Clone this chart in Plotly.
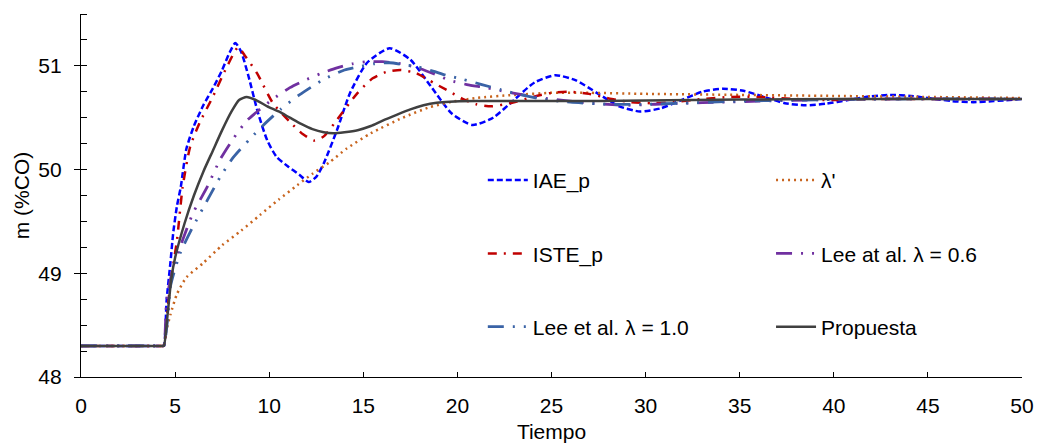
import plotly.graph_objects as go

# Controller output responses m (%CO) versus time
t_iae = [0, 4.3, 4.4, 4.55, 4.75, 4.9, 5.1, 5.3, 5.6, 6.0, 6.5, 7.0, 7.5, 7.9, 8.2, 8.5, 8.9,
         9.4, 9.9, 10.4, 11.0, 11.6, 12.1, 12.5, 12.9, 13.6, 14.3, 15.2, 16.4, 17.5, 18.6,
         19.7, 20.8, 21.9, 23.0, 24.1, 25.2, 26.3, 27.45, 28.6, 29.7, 30.8, 31.9, 33.0,
         34.1, 35.2, 36.3, 37.4, 38.5, 39.6, 40.75, 41.9, 43.0, 44.1, 45.2, 46.3, 47.4,
         48.5, 50.0]
m_iae = [48.3, 48.3, 48.3, 48.74, 49.1, 49.39, 49.65, 49.83, 50.2, 50.42, 50.62, 50.78, 50.96,
         51.13, 51.22, 51.14, 50.9, 50.55, 50.28, 50.12, 50.03, 49.95, 49.88, 49.93, 50.06,
         50.38, 50.74, 51.03, 51.17, 51.06, 50.8, 50.54, 50.43, 50.5, 50.67, 50.84, 50.91,
         50.86, 50.735, 50.61, 50.56, 50.59, 50.67, 50.75, 50.78, 50.76, 50.7, 50.64,
         50.62, 50.635, 50.67, 50.705, 50.72, 50.71, 50.685, 50.66, 50.65, 50.66, 50.68]

t_lam = [0, 4.3, 4.4, 4.5, 4.75, 5.1, 5.6, 6.5, 7.5, 8.5, 9.5, 10.5, 11.5, 12.3, 13.2, 14.1,
         15.4, 17.1, 18.5, 19.6, 21.0, 23.0, 25.0, 27.0, 30.0, 35.0, 40.0, 45.0, 50.0]
m_lam = [48.3, 48.3, 48.3, 48.42, 48.6, 48.8, 48.96, 49.1, 49.27, 49.41, 49.56, 49.71, 49.85,
         49.96, 50.07, 50.2, 50.35, 50.5, 50.6, 50.65, 50.69, 50.72, 50.74, 50.74, 50.73,
         50.72, 50.71, 50.7, 50.69]

t_iste = [0, 4.3, 4.4, 4.6, 4.75, 5.1, 5.4, 5.8, 6.3, 7.0, 7.75, 8.35, 8.7, 9.35, 10.2, 11.1,
          11.8, 12.4, 12.9, 13.6, 14.7, 15.5, 16.2, 17.0, 17.8, 18.5, 19.4, 20.3, 21.0,
          21.8, 22.8, 24.0, 25.0, 26.0, 27.0, 28.2, 29.2, 30.4, 31.5, 33.0, 34.5, 36.0,
          38.0, 40.0, 42.0, 45.0, 50.0]
m_iste = [48.3, 48.3, 48.3, 48.65, 48.9, 49.32, 49.83, 50.22, 50.45, 50.7, 50.99, 51.18, 51.1,
          50.93, 50.64, 50.46, 50.34, 50.28, 50.32, 50.48, 50.74, 50.88, 50.94, 50.96, 50.93,
          50.86, 50.77, 50.68, 50.63, 50.61, 50.64, 50.7, 50.74, 50.75, 50.73, 50.68, 50.65,
          50.64, 50.65, 50.68, 50.7, 50.7, 50.68, 50.67, 50.68, 50.68, 50.68]

t_lee06 = [0, 4.3, 4.4, 4.55, 4.9, 5.4, 5.95, 6.7, 7.4, 8.1, 8.8, 9.5, 10.2, 11.1, 12.0, 12.8,
           13.6, 14.4, 15.2, 16.0, 17.0, 17.9, 18.8, 19.6, 20.5, 21.5, 22.6, 23.5, 24.5,
           25.5, 27.0, 28.9, 30.5, 32.0, 34.0, 36.0, 38.6, 42.0, 50.0]
m_lee06 = [48.3, 48.3, 48.3, 48.74, 49.06, 49.32, 49.58, 49.83, 50.1, 50.3, 50.47, 50.58, 50.68,
           50.79, 50.87, 50.93, 50.98, 51.02, 51.04, 51.04, 51.02, 50.98, 50.92, 50.86,
           50.82, 50.79, 50.75, 50.72, 50.69, 50.67, 50.64, 50.62, 50.63, 50.64, 50.65,
           50.66, 50.67, 50.68, 50.68]

t_lee10 = [0, 4.3, 4.4, 4.6, 4.75, 5.26, 5.95, 6.7, 7.4, 8.1, 9.0, 9.7, 10.6, 11.6, 12.9, 14.0,
           14.7, 15.6, 16.4, 17.2, 17.9, 18.7, 19.4, 20.3, 21.3, 22.3, 23.4, 24.5, 26.0,
           28.0, 30.0, 32.0, 35.0, 38.0, 42.0, 50.0]
m_lee10 = [48.3, 48.3, 48.3, 48.55, 48.87, 49.19, 49.45, 49.7, 49.93, 50.12, 50.3, 50.43, 50.58,
           50.72, 50.87, 50.96, 50.99, 51.02, 51.03, 51.01, 50.99, 50.95, 50.91, 50.87,
           50.82, 50.77, 50.72, 50.68, 50.65, 50.63, 50.63, 50.64, 50.66, 50.67, 50.68, 50.68]

t_prop = [0, 4.3, 4.4, 4.6, 4.8, 5.0, 5.5, 6.0, 6.5, 7.0, 7.5, 8.0, 8.4, 8.8, 9.3, 9.9, 10.5,
          11.1, 11.7, 12.3, 12.9, 13.4, 14.0, 14.7, 15.4, 16.0, 16.8, 17.5, 18.2, 18.9,
          19.6, 21.0, 25.0, 30.0, 35.0, 40.0, 50.0]
m_prop = [48.3, 48.3, 48.3, 48.6, 48.95, 49.15, 49.48, 49.75, 49.98, 50.18, 50.38, 50.56, 50.67,
          50.7, 50.67, 50.61, 50.56, 50.5, 50.44, 50.39, 50.36, 50.35, 50.36, 50.38, 50.42,
          50.47, 50.53, 50.58, 50.62, 50.645, 50.655, 50.66, 50.66, 50.665, 50.675, 50.68,
          50.68]

FONT = "Liberation Sans, Arial, sans-serif"

series = [
    # name, t, m, colour, width, dash, legend
    ("IAE_p", t_iae, m_iae, "#0000FF", 2.5, "6px,3px", "legend"),
    ("λ'", t_lam, m_lam, "#C8641E", 2.5, "2px,4px", "legend2"),
    ("ISTE_p", t_iste, m_iste, "#C00000", 2.5, "9px,7px,2px,7px", "legend"),
    ("Lee at al. λ = 0.6", t_lee06, m_lee06, "#7030A0", 2.8, "16px,9px,2px,9px,2px,9px", "legend2"),
    ("Lee et al. λ = 1.0", t_lee10, m_lee10, "#3A63A6", 2.8, "16px,9px,2px,9px,2px,9px", "legend"),
    ("Propuesta", t_prop, m_prop, "#404040", 2.5, "solid", "legend2"),
]

fig = go.Figure()
for name, t, m, color, width, dash, leg in series:
    fig.add_trace(go.Scatter(
        x=t, y=m, name=name, mode="lines",
        line=dict(color=color, width=width, dash=dash, shape="spline", smoothing=0.6),
        legend=leg, legendgroup=name,
    ))

legend_common = dict(
    font=dict(family=FONT, size=21, color="#000000"),
    bgcolor="rgba(0,0,0,0)",
    traceorder="grouped",
    tracegroupgap=43,
    itemwidth=40,
    xanchor="left", yanchor="top",
)

fig.update_layout(
    width=1037, height=443,
    margin=dict(l=81, r=15, t=14, b=66, autoexpand=False),
    paper_bgcolor="white", plot_bgcolor="white",
    font=dict(family=FONT, size=21, color="#000000"),
    showlegend=True,
    legend=dict(x=0.427, y=0.598, **legend_common),
    legend2=dict(x=0.7333, y=0.598, **legend_common),
    xaxis=dict(
        range=[0, 50], tick0=0, dtick=5, showgrid=False, zeroline=False,
        showline=True, linecolor="#000000", linewidth=1.2,
        ticks="inside", ticklen=5, tickcolor="#000000",
        ticklabelstandoff=10, automargin=False,
        title=dict(text="Tiempo", font=dict(size=21), standoff=12),
    ),
    yaxis=dict(
        range=[48, 51.5], tick0=48, dtick=1, showgrid=False, zeroline=False,
        showline=True, linecolor="#000000", linewidth=1.2,
        ticks="outside", ticklen=6, tickcolor="#000000",
        ticklabelstandoff=8, automargin=False,
        minor=dict(dtick=0.25, tick0=48, ticks="inside", ticklen=6, tickcolor="#000000", showgrid=False),
        title=dict(text="m (%CO)", font=dict(size=21), standoff=2),
    ),
)

fig.write_html("out.html")
